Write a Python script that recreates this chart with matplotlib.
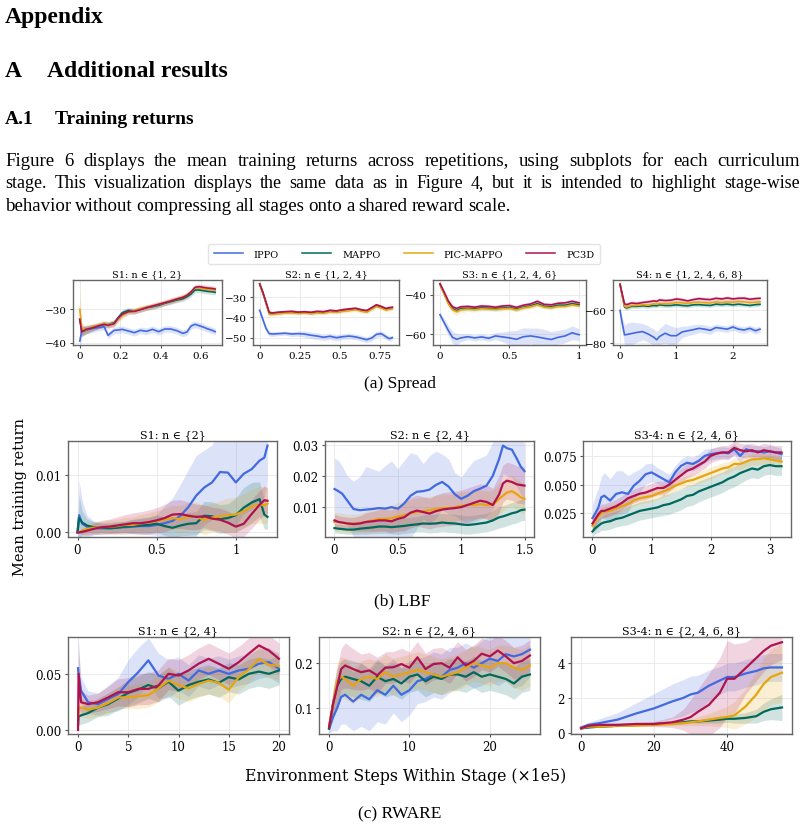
import matplotlib
matplotlib.use('Agg')
import matplotlib.pyplot as plt
from matplotlib.lines import Line2D
from matplotlib.ticker import FixedLocator, FuncFormatter
import numpy as np

# methods and colours
methods = ['IPPO', 'MAPPO', 'PIC-MAPPO', 'PC3D']
colors = ['#4169e1', '#00695c', '#e6a50f', '#b0124f']

# ---------------- Spread ----------------
sp1_x = [0, 0.01, 0.03, 0.06, 0.09, 0.12, 0.14, 0.17, 0.19, 0.21, 0.24, 0.27, 0.30, 0.33,
         0.36, 0.39, 0.42, 0.45, 0.48, 0.51, 0.53, 0.55, 0.57, 0.59, 0.61, 0.63, 0.65, 0.67]
sp1_ippo = [-39.5, -36.5, -36.2, -35.8, -35.5, -35.2, -37.8, -36.3, -36.2, -36.0, -36.5, -37.0, -36.3, -36.6,
            -36.0, -36.7, -35.9, -35.9, -36.4, -37.2, -36.8, -35.0, -34.5, -34.9, -35.3, -35.8, -36.2, -36.7]
sp1_mappo = [-33.0, -36.5, -36.3, -35.5, -35.0, -34.5, -34.6, -34.0, -32.5, -31.0, -30.3, -30.5, -30.0, -29.5,
             -29.2, -28.8, -28.2, -27.7, -27.2, -26.8, -26.2, -25.4, -24.2, -24.2, -24.4, -24.6, -24.7, -24.9]
sp1_pic = [-30.0, -35.8, -36.2, -35.3, -34.8, -34.3, -34.6, -34.2, -33.0, -31.8, -30.8, -30.4, -29.8, -29.4,
           -29.0, -28.5, -28.0, -27.4, -26.9, -26.3, -25.7, -24.8, -23.5, -23.6, -23.8, -24.0, -24.1, -24.2]
sp1_pc3d = [-33.0, -36.8, -36.0, -35.6, -35.0, -34.5, -34.8, -34.3, -32.6, -31.5, -30.7, -30.6, -30.1, -29.5,
            -29.0, -28.5, -28.0, -27.5, -26.9, -26.4, -25.8, -24.8, -23.4, -23.2, -23.4, -23.6, -23.7, -23.9]
sp1_ippo_sd = [3.0, 1.5, 1.2, 1.2, 1.0, 1.0, 1.0, 1.0, 1.0, 1.0, 1.0, 1.0, 1.0, 1.0,
               1.0, 1.0, 1.0, 1.0, 1.0, 1.0, 1.0, 1.0, 1.0, 1.0, 1.0, 1.0, 1.0, 1.0]
sp1_mappo_sd = [4.0, 1.5, 1.2, 1.0, 0.9, 0.9, 0.9, 0.9, 0.9, 0.9, 0.8, 0.8, 0.8, 0.8,
                0.8, 0.8, 0.8, 0.8, 0.8, 0.8, 0.8, 0.8, 0.8, 0.8, 0.8, 0.8, 0.8, 0.8]
sp1_pic_sd = [6.0, 1.8, 1.3, 1.0, 1.0, 1.0, 1.0, 1.0, 1.0, 1.0, 0.9, 0.9, 0.9, 0.9,
              0.9, 0.9, 0.9, 0.9, 0.9, 0.9, 0.9, 0.9, 0.9, 0.9, 0.9, 0.9, 0.9, 0.9]
sp1_pc3d_sd = [4.0, 1.5, 1.2, 1.0, 0.9, 0.9, 0.9, 0.9, 0.9, 0.9, 0.8, 0.8, 0.8, 0.8,
               0.8, 0.8, 0.8, 0.8, 0.8, 0.8, 0.8, 0.8, 0.8, 0.8, 0.8, 0.8, 0.8, 0.8]

sp2_x = [0, 0.02, 0.04, 0.06, 0.08, 0.12, 0.16, 0.2, 0.24, 0.28, 0.32, 0.36, 0.4,
         0.44, 0.48, 0.52, 0.56, 0.6, 0.64, 0.67, 0.7, 0.73, 0.76, 0.79, 0.81, 0.83]
sp2_ippo = [-36.5, -41.0, -45.5, -48.0, -48.2, -48.0, -47.8, -48.2, -48.0, -48.2, -48.8, -49.2, -49.8,
            -49.3, -50.0, -49.5, -49.2, -49.6, -50.4, -51.0, -50.2, -48.4, -48.0, -49.5, -50.5, -50.0]
sp2_mappo = [-23.5, -28.0, -33.0, -38.2, -38.0, -37.8, -37.4, -37.4, -37.7, -37.5, -37.8, -37.4, -37.5,
             -36.9, -37.1, -36.6, -36.2, -35.8, -36.7, -37.0, -35.6, -34.2, -35.0, -36.0, -35.6, -35.4]
sp2_pic = [-23.5, -28.0, -33.0, -38.5, -38.5, -38.2, -37.8, -37.8, -38.0, -37.8, -38.2, -37.8, -37.9,
           -37.3, -37.5, -37.0, -36.6, -36.2, -37.0, -37.4, -36.0, -34.6, -35.4, -36.4, -36.0, -35.8]
sp2_pc3d = [-23.5, -27.5, -32.5, -37.5, -37.8, -37.4, -37.2, -37.0, -37.4, -37.2, -37.5, -37.0, -37.2,
            -36.5, -36.8, -36.2, -35.8, -35.5, -36.3, -36.6, -35.2, -33.8, -34.6, -35.6, -35.2, -35.0]
sp2_ippo_sd = [1.5, 1.5, 1.5, 1.2, 1.2, 1.0, 1.0, 1.2, 1.3, 1.5, 1.6, 1.6, 1.6,
               1.5, 1.5, 1.4, 1.4, 1.4, 1.4, 1.5, 1.5, 1.5, 1.4, 1.3, 1.2, 1.2]
sp2_mappo_sd = [0.8] * 26
sp2_pic_sd = [0.9] * 26
sp2_pc3d_sd = [0.8] * 26

sp3_x = [0, 0.03, 0.06, 0.09, 0.12, 0.15, 0.2, 0.25, 0.3, 0.35, 0.4, 0.45,
         0.5, 0.55, 0.6, 0.65, 0.7, 0.75, 0.8, 0.85, 0.9, 0.95, 1.0]
sp3_ippo = [-50.0, -54.0, -58.0, -61.5, -62.5, -61.8, -61.2, -61.8, -61.3, -62.0, -60.8, -61.3,
            -61.8, -62.5, -61.2, -60.8, -61.3, -62.0, -62.6, -61.5, -60.8, -59.2, -60.2]
sp3_mappo = [-34.6, -39.2, -44.0, -47.0, -48.0, -47.0, -46.8, -47.0, -46.6, -46.8, -47.0, -46.6,
             -46.4, -47.2, -46.2, -45.6, -44.4, -45.8, -46.0, -45.2, -45.2, -44.4, -45.0]
sp3_pic = [-34.6, -39.5, -44.5, -47.5, -48.5, -47.5, -47.2, -47.5, -47.0, -47.2, -47.4, -47.0,
           -46.8, -47.6, -46.5, -46.0, -45.0, -46.2, -46.5, -45.8, -45.8, -45.0, -45.6]
sp3_pc3d = [-34.2, -38.5, -43.0, -46.0, -46.8, -46.0, -45.8, -46.2, -45.6, -45.8, -46.2, -45.6,
            -45.4, -46.3, -45.2, -44.6, -43.2, -44.8, -45.0, -44.2, -44.0, -43.2, -44.0]
sp3_ippo_sd = [1.5, 2.0, 2.5, 3.0, 3.0, 2.0, 1.5, 1.5, 1.5, 1.5, 1.8, 2.5,
               3.5, 4.5, 4.5, 4.0, 4.5, 4.5, 4.0, 3.5, 3.5, 3.5, 3.0]
sp3_mappo_sd = [1.0] * 23
sp3_pic_sd = [1.0, 1.2, 1.5, 1.8, 1.8, 1.5, 1.2, 1.2, 1.0, 1.0, 1.0, 1.0,
              1.0, 1.0, 1.0, 1.0, 1.0, 1.0, 1.0, 1.0, 1.0, 1.0, 1.0]
sp3_pc3d_sd = [1.0] * 23

sp4_x = [0, 0.04, 0.08, 0.12, 0.2, 0.3, 0.4, 0.5, 0.6, 0.65, 0.7, 0.8, 0.9, 1.0, 1.1,
         1.2, 1.3, 1.4, 1.5, 1.6, 1.7, 1.8, 1.9, 2.0, 2.1, 2.2, 2.3, 2.4, 2.48]
sp4_ippo = [-60.0, -68.0, -75.0, -74.8, -74.2, -73.5, -73.0, -74.5, -76.5, -78.0, -76.0, -74.0, -75.5, -75.5, -73.2,
            -72.5, -71.8, -71.0, -71.5, -72.2, -70.5, -71.0, -71.5, -70.2, -71.5, -72.0, -71.0, -72.5, -71.5]
sp4_mappo = [-44.0, -51.0, -58.0, -58.5, -57.5, -57.5, -57.2, -57.5, -57.0, -57.2, -56.6, -57.0, -57.0, -56.6, -57.0,
             -57.2, -56.6, -56.5, -56.8, -57.0, -56.2, -56.5, -56.2, -56.6, -56.2, -56.6, -57.0, -56.5, -56.3]
sp4_pic = [-44.0, -51.0, -57.5, -58.0, -57.0, -57.0, -56.5, -56.8, -56.0, -56.2, -55.8, -56.0, -55.8, -55.2, -55.4,
           -55.8, -55.2, -55.0, -55.3, -55.5, -54.8, -55.2, -54.8, -55.0, -54.6, -54.8, -55.3, -55.0, -54.8]
sp4_pc3d = [-44.0, -50.0, -56.0, -56.5, -55.5, -55.8, -55.2, -54.8, -54.2, -54.5, -53.6, -54.0, -53.8, -53.0, -53.5,
            -54.2, -53.4, -52.8, -53.2, -53.4, -52.6, -53.0, -52.4, -53.0, -52.6, -52.5, -53.2, -52.8, -52.6]
sp4_ippo_sd = [2, 4, 6, 7, 7, 6, 5, 5, 5, 5, 5, 6, 6, 5, 3.5,
               3, 3, 2.5, 2.5, 2.5, 2, 2, 2, 2, 2, 2, 2, 2, 2]
sp4_mappo_sd = [1.2] * 29
sp4_pic_sd = [1.3] * 29
sp4_pc3d_sd = [1.3] * 29

# ---------------- LBF ----------------
lb1_x = [0, 0.01, 0.03, 0.06, 0.1, 0.15, 0.2, 0.25, 0.3, 0.35, 0.4, 0.45, 0.5, 0.55,
         0.6, 0.65, 0.7, 0.75, 0.8, 0.85, 0.9, 0.95, 1.0, 1.05, 1.1, 1.15, 1.18, 1.2]
lb1_ippo = [0.0, 0.003, 0.0015, 0.001, 0.0008, 0.0007, 0.0008, 0.0009, 0.0009, 0.001, 0.0011, 0.0011, 0.0013, 0.0016,
            0.002, 0.0029, 0.0044, 0.0064, 0.0078, 0.0087, 0.0105, 0.0104, 0.0087, 0.0102, 0.011, 0.0125, 0.013, 0.0151]
lb1_mappo = [0.0, 0.0025, 0.0017, 0.0012, 0.0009, 0.0008, 0.0007, 0.0008, 0.001, 0.0011, 0.0012, 0.0013, 0.0015, 0.0011,
             0.0008, 0.0012, 0.0015, 0.0016, 0.0029, 0.0028, 0.0023, 0.0025, 0.003, 0.0043, 0.0052, 0.0058, 0.0031, 0.0027]
lb1_pic = [0.0, 0.0, 0.0003, 0.0006, 0.0008, 0.0009, 0.001, 0.0011, 0.0013, 0.0013, 0.0016, 0.0017, 0.002, 0.0022,
           0.0025, 0.0023, 0.0027, 0.0028, 0.0021, 0.0026, 0.0028, 0.003, 0.0031, 0.0037, 0.0045, 0.0048, 0.0047, 0.005]
lb1_pc3d = [0.0, 0.0, 0.0001, 0.0003, 0.0006, 0.0009, 0.001, 0.0012, 0.0014, 0.0016, 0.0016, 0.0018, 0.0021, 0.0025,
            0.0031, 0.0032, 0.0029, 0.0027, 0.0028, 0.0024, 0.0022, 0.0017, 0.001, 0.0015, 0.0032, 0.0048, 0.0056, 0.0055]
lb1_ippo_sd = [0.0, 0.006, 0.004, 0.002, 0.0012, 0.001, 0.001, 0.001, 0.001, 0.0012, 0.0013, 0.0015, 0.0018, 0.003,
               0.004, 0.0055, 0.0065, 0.007, 0.0065, 0.0065, 0.0075, 0.0085, 0.0075, 0.007, 0.007, 0.007, 0.007, 0.006]
lb1_mappo_sd = [0.0, 0.004, 0.002, 0.0012, 0.001, 0.0008, 0.0008, 0.0009, 0.001, 0.0012, 0.0013, 0.0014, 0.0015, 0.0016,
                0.0017, 0.0018, 0.002, 0.002, 0.0025, 0.0025, 0.0025, 0.0025, 0.003, 0.0035, 0.0035, 0.003, 0.0025, 0.0022]
lb1_pic_sd = [0.0, 0.0, 0.0008, 0.001, 0.001, 0.001, 0.0012, 0.0012, 0.0013, 0.0014, 0.0015, 0.0017, 0.0018, 0.002,
              0.0022, 0.0024, 0.0025, 0.0025, 0.0025, 0.0025, 0.0027, 0.003, 0.003, 0.003, 0.003, 0.0032, 0.0032, 0.0032]
lb1_pc3d_sd = [0.0, 0.0, 0.0005, 0.0008, 0.001, 0.0012, 0.0013, 0.0015, 0.0017, 0.0018, 0.002, 0.0021, 0.0022, 0.0024,
               0.0025, 0.0025, 0.0024, 0.0022, 0.002, 0.002, 0.002, 0.002, 0.002, 0.0022, 0.0025, 0.0025, 0.0025, 0.0022]

lb2_x = [0, 0.03, 0.06, 0.1, 0.15, 0.2, 0.25, 0.3, 0.35, 0.4, 0.45, 0.5, 0.55, 0.6, 0.65, 0.7, 0.75,
         0.8, 0.85, 0.9, 0.95, 1.0, 1.05, 1.1, 1.15, 1.2, 1.25, 1.3, 1.33, 1.36, 1.4, 1.44, 1.47, 1.5]
lb2_ippo = [0.0157, 0.015, 0.0142, 0.012, 0.0092, 0.0088, 0.009, 0.0092, 0.0095, 0.0093, 0.0098, 0.0093, 0.011,
            0.0135, 0.0148, 0.015, 0.0155, 0.017, 0.018, 0.0165, 0.014, 0.0125, 0.0135, 0.015, 0.0158, 0.0168,
            0.02, 0.0255, 0.0298, 0.029, 0.0285, 0.0255, 0.023, 0.0215]
lb2_mappo = [0.003, 0.0028, 0.0027, 0.0025, 0.0025, 0.0028, 0.003, 0.0032, 0.0035, 0.0035, 0.0033, 0.0035, 0.0037,
             0.004, 0.0042, 0.0045, 0.0044, 0.0045, 0.0048, 0.0046, 0.0045, 0.0042, 0.004, 0.0042, 0.0045, 0.0048,
             0.0055, 0.0065, 0.0068, 0.0072, 0.0078, 0.0082, 0.0088, 0.009]
lb2_pic = [0.005, 0.005, 0.0048, 0.0045, 0.0045, 0.0047, 0.005, 0.0055, 0.006, 0.006, 0.0062, 0.0068, 0.0072,
           0.0078, 0.0082, 0.0085, 0.0088, 0.0092, 0.0095, 0.0095, 0.0098, 0.0102, 0.0105, 0.0105, 0.0108, 0.0105,
           0.0105, 0.0125, 0.0135, 0.0145, 0.015, 0.014, 0.013, 0.0125]
lb2_pc3d = [0.0055, 0.005, 0.0048, 0.0045, 0.0043, 0.0045, 0.005, 0.0052, 0.0055, 0.0055, 0.0052, 0.006, 0.0065,
            0.008, 0.0087, 0.0082, 0.0077, 0.0085, 0.009, 0.0093, 0.0095, 0.0098, 0.0105, 0.0112, 0.0119, 0.0115,
            0.0105, 0.014, 0.0175, 0.0184, 0.018, 0.0172, 0.017, 0.0168]
lb2_ippo_sd = [0.01, 0.01, 0.009, 0.008, 0.009, 0.011, 0.014, 0.013, 0.012, 0.014, 0.015, 0.013, 0.014,
               0.014, 0.012, 0.009, 0.011, 0.011, 0.009, 0.009, 0.007, 0.007, 0.009, 0.01, 0.01, 0.01,
               0.011, 0.01, 0.009, 0.009, 0.009, 0.009, 0.009, 0.009]
lb2_mappo_sd = [0.0015, 0.0015, 0.0015, 0.0015, 0.0015, 0.0018, 0.002, 0.002, 0.0022, 0.0022, 0.0022, 0.0025, 0.0025,
                0.0025, 0.0025, 0.0028, 0.003, 0.003, 0.003, 0.003, 0.003, 0.003, 0.003, 0.003, 0.003, 0.003,
                0.0032, 0.0035, 0.0035, 0.0035, 0.0035, 0.0035, 0.0035, 0.0035]
lb2_pic_sd = [0.003, 0.003, 0.003, 0.003, 0.003, 0.003, 0.0035, 0.0038, 0.004, 0.004, 0.0042, 0.0045, 0.0045,
              0.0045, 0.0045, 0.0045, 0.0045, 0.0045, 0.0045, 0.0045, 0.0045, 0.0045, 0.0045, 0.0045, 0.0045, 0.0045,
              0.0048, 0.005, 0.005, 0.005, 0.005, 0.005, 0.005, 0.005]
lb2_pc3d_sd = [0.002, 0.002, 0.002, 0.002, 0.0022, 0.0025, 0.003, 0.0032, 0.0035, 0.0035, 0.0038, 0.004, 0.0045,
               0.005, 0.005, 0.005, 0.005, 0.0052, 0.0055, 0.0055, 0.0055, 0.0055, 0.0055, 0.0055, 0.0055, 0.0055,
               0.0055, 0.006, 0.006, 0.006, 0.006, 0.006, 0.006, 0.006]

lb3_x = [0, 0.05, 0.1, 0.15, 0.2, 0.3, 0.4, 0.5, 0.6, 0.7, 0.8, 0.9, 1.0, 1.1, 1.2, 1.3, 1.4, 1.5,
         1.6, 1.7, 1.8, 1.9, 2.0, 2.1, 2.2, 2.3, 2.4, 2.5, 2.6, 2.7, 2.8, 2.9, 3.0, 3.1, 3.2]
lb3_ippo = [0.0207, 0.025, 0.030, 0.0389, 0.0403, 0.036, 0.0418, 0.0432, 0.0418, 0.049, 0.0533, 0.059, 0.0606,
            0.0577, 0.0548, 0.0519, 0.0606, 0.0663, 0.069, 0.068, 0.0707, 0.075, 0.0765, 0.0773, 0.078, 0.0773,
            0.0808, 0.075, 0.0808, 0.079, 0.079, 0.078, 0.079, 0.078, 0.0765]
lb3_mappo = [0.009, 0.012, 0.014, 0.016, 0.017, 0.018, 0.02, 0.021, 0.023, 0.025, 0.027, 0.028, 0.029, 0.03,
             0.032, 0.033, 0.035, 0.037, 0.04, 0.041, 0.044, 0.046, 0.048, 0.05, 0.052, 0.055, 0.057, 0.06,
             0.062, 0.064, 0.063, 0.066, 0.067, 0.066, 0.066]
lb3_pic = [0.014, 0.018, 0.022, 0.025, 0.026, 0.027, 0.029, 0.031, 0.033, 0.036, 0.038, 0.039, 0.04, 0.042,
           0.044, 0.046, 0.049, 0.051, 0.053, 0.054, 0.056, 0.058, 0.06, 0.062, 0.064, 0.065, 0.068, 0.068,
           0.07, 0.072, 0.072, 0.073, 0.072, 0.071, 0.07]
lb3_pc3d = [0.016, 0.02, 0.024, 0.027, 0.027, 0.029, 0.031, 0.034, 0.038, 0.04, 0.042, 0.043, 0.045, 0.047,
            0.047, 0.05, 0.054, 0.058, 0.062, 0.064, 0.067, 0.07, 0.075, 0.077, 0.078, 0.078, 0.082, 0.08,
            0.079, 0.08, 0.078, 0.08, 0.079, 0.078, 0.078]
lb3_ippo_sd = [0.012, 0.015, 0.017, 0.018, 0.02, 0.019, 0.02, 0.019, 0.016, 0.012, 0.01, 0.009, 0.008, 0.007,
               0.007, 0.007, 0.006, 0.006, 0.006, 0.006, 0.006, 0.006, 0.005, 0.005, 0.005, 0.005, 0.005, 0.006,
               0.005, 0.005, 0.005, 0.005, 0.005, 0.005, 0.005]
lb3_mappo_sd = [0.004, 0.005, 0.006, 0.006, 0.007, 0.007, 0.007, 0.007, 0.008, 0.008, 0.008, 0.008, 0.008, 0.008,
                0.009, 0.009, 0.009, 0.009, 0.009, 0.009, 0.009, 0.009, 0.009, 0.009, 0.009, 0.009, 0.009, 0.009,
                0.008, 0.008, 0.008, 0.008, 0.008, 0.008, 0.008]
lb3_pic_sd = [0.005] * 35
lb3_pc3d_sd = [0.006] * 35

# ---------------- RWARE ----------------
rw1_x = [0, 0.05, 0.3, 1, 2, 3, 4, 5, 6, 7, 8, 9, 10, 11, 12, 13, 14, 15, 16, 17, 18, 19, 20]
rw1_ippo = [0.055, 0.05, 0.035, 0.0247, 0.023, 0.0277, 0.032, 0.0426, 0.0515, 0.062, 0.0485, 0.0455,
            0.05, 0.044, 0.053, 0.05, 0.053, 0.05, 0.053, 0.0545, 0.059, 0.0604, 0.0545]
rw1_mappo = [0.005, 0.012, 0.013, 0.015, 0.02, 0.023, 0.028, 0.033, 0.036, 0.04, 0.037, 0.043,
             0.035, 0.04, 0.043, 0.045, 0.042, 0.047, 0.045, 0.05, 0.052, 0.05, 0.053]
rw1_pic = [0.01, 0.02, 0.02, 0.018, 0.02, 0.024, 0.029, 0.029, 0.03, 0.031, 0.037, 0.044,
           0.04, 0.037, 0.041, 0.044, 0.042, 0.036, 0.047, 0.054, 0.063, 0.058, 0.057]
rw1_pc3d = [0.0, 0.05, 0.0247, 0.023, 0.0247, 0.029, 0.0336, 0.0336, 0.0366, 0.0366, 0.0396, 0.05,
            0.0485, 0.053, 0.059, 0.0634, 0.059, 0.0545, 0.0604, 0.068, 0.0753, 0.0708, 0.0634]
rw1_ippo_sd = [0.03, 0.02, 0.012, 0.01, 0.01, 0.012, 0.015, 0.02, 0.022, 0.02, 0.02, 0.017,
               0.015, 0.014, 0.014, 0.014, 0.013, 0.013, 0.013, 0.013, 0.013, 0.013, 0.013]
rw1_mappo_sd = [0.005, 0.008, 0.008, 0.008, 0.008, 0.01, 0.01, 0.012, 0.012, 0.012, 0.012, 0.013,
                0.013, 0.013, 0.013, 0.013, 0.013, 0.013, 0.013, 0.013, 0.013, 0.013, 0.013]
rw1_pic_sd = [0.01, 0.01, 0.008, 0.008, 0.008, 0.009, 0.01, 0.01, 0.011, 0.011, 0.012, 0.012,
              0.012, 0.012, 0.012, 0.012, 0.012, 0.012, 0.012, 0.012, 0.012, 0.012, 0.012]
rw1_pc3d_sd = [0.0, 0.03, 0.01, 0.008, 0.008, 0.01, 0.012, 0.013, 0.014, 0.014, 0.014, 0.014,
               0.014, 0.014, 0.014, 0.014, 0.014, 0.014, 0.014, 0.014, 0.014, 0.014, 0.014]

rw2_x = [0, 0.5, 1, 1.5, 2, 3, 4, 5, 6, 7, 8, 9, 10, 11, 12, 13, 14, 15, 16, 17, 18, 19, 20, 21, 22, 23, 24, 25]
rw2_ippo = [0.055, 0.08, 0.1, 0.125, 0.13, 0.115, 0.13, 0.12, 0.14, 0.13, 0.15, 0.13, 0.14, 0.16,
            0.165, 0.175, 0.17, 0.185, 0.19, 0.2, 0.19, 0.2, 0.21, 0.205, 0.22, 0.215, 0.22, 0.23]
rw2_mappo = [0.055, 0.11, 0.15, 0.165, 0.17, 0.165, 0.16, 0.15, 0.17, 0.16, 0.165, 0.155, 0.17, 0.175,
             0.16, 0.17, 0.165, 0.175, 0.175, 0.17, 0.18, 0.17, 0.175, 0.17, 0.165, 0.155, 0.17, 0.175]
rw2_pic = [0.06, 0.11, 0.16, 0.17, 0.165, 0.15, 0.165, 0.17, 0.165, 0.18, 0.17, 0.175, 0.18, 0.185,
           0.18, 0.175, 0.17, 0.175, 0.18, 0.19, 0.2, 0.195, 0.19, 0.2, 0.2, 0.19, 0.185, 0.195]
rw2_pc3d = [0.058, 0.11, 0.147, 0.187, 0.195, 0.187, 0.18, 0.184, 0.173, 0.19, 0.191, 0.198, 0.19, 0.213,
            0.187, 0.198, 0.2, 0.19, 0.213, 0.195, 0.205, 0.221, 0.215, 0.228, 0.215, 0.2, 0.205, 0.217]
rw2_ippo_sd = [0.01, 0.03, 0.05, 0.06, 0.065, 0.065, 0.07, 0.07, 0.07, 0.065, 0.06, 0.06, 0.055, 0.05,
               0.05, 0.05, 0.05, 0.05, 0.045, 0.045, 0.045, 0.05, 0.05, 0.055, 0.06, 0.07, 0.07, 0.06]
rw2_mappo_sd = [0.01, 0.03, 0.04, 0.04, 0.04, 0.04, 0.04, 0.035, 0.035, 0.035, 0.035, 0.035, 0.035, 0.035,
                0.035, 0.035, 0.035, 0.035, 0.035, 0.035, 0.035, 0.035, 0.035, 0.035, 0.035, 0.035, 0.035, 0.035]
rw2_pic_sd = [0.01, 0.03, 0.04, 0.045, 0.045, 0.04, 0.04, 0.04, 0.04, 0.04, 0.04, 0.04, 0.04, 0.04,
              0.04, 0.04, 0.04, 0.04, 0.04, 0.04, 0.04, 0.04, 0.04, 0.04, 0.04, 0.045, 0.045, 0.045]
rw2_pc3d_sd = [0.01, 0.03, 0.04, 0.045, 0.05, 0.045, 0.04, 0.04, 0.04, 0.035, 0.035, 0.035, 0.035, 0.035,
               0.035, 0.035, 0.035, 0.035, 0.035, 0.035, 0.035, 0.035, 0.035, 0.035, 0.035, 0.035, 0.035, 0.035]

rw3_x = [0, 2, 5, 10, 15, 20, 25, 28, 30, 32, 35, 38, 40, 42, 45, 48, 50, 52, 55]
rw3_ippo = [0.3, 0.45, 0.55, 0.75, 1.1, 1.4, 1.8, 2.0, 2.2, 2.3, 2.7, 3.0, 3.2, 3.2, 3.4, 3.55, 3.7, 3.75, 3.75]
rw3_mappo = [0.25, 0.3, 0.35, 0.4, 0.45, 0.5, 0.55, 0.6, 0.65, 0.65, 0.7, 0.75, 0.8, 0.8, 0.85, 0.95, 1.2, 1.35, 1.45]
rw3_pic = [0.25, 0.35, 0.35, 0.4, 0.4, 0.45, 0.5, 0.55, 0.6, 0.65, 0.75, 0.85, 0.9, 1.0, 1.5, 2.2, 2.8, 3.2, 3.45]
rw3_pc3d = [0.25, 0.4, 0.45, 0.45, 0.5, 0.5, 0.6, 0.75, 0.9, 1.2, 1.6, 2.3, 3.1, 3.1, 3.7, 4.3, 4.7, 5.0, 5.2]
rw3_ippo_sd = [0.1, 0.15, 0.25, 0.4, 0.6, 0.85, 1.0, 1.05, 1.05, 1.0, 0.9, 0.8, 0.8, 0.8, 0.8, 0.8, 0.8, 0.8, 0.8]
rw3_mappo_sd = [0.05, 0.05, 0.05, 0.05, 0.05, 0.05, 0.1, 0.1, 0.1, 0.1, 0.15, 0.2, 0.2, 0.25, 0.3, 0.4, 0.5, 0.6, 0.75]
rw3_pic_sd = [0.05, 0.05, 0.05, 0.05, 0.05, 0.1, 0.1, 0.15, 0.2, 0.25, 0.35, 0.5, 0.6, 0.8, 1.0, 1.3, 1.5, 1.6, 1.7]
rw3_pc3d_sd = [0.05, 0.1, 0.1, 0.1, 0.1, 0.15, 0.3, 0.6, 1.0, 1.3, 1.8, 2.0, 2.2, 2.0, 1.5, 1.3, 1.2, 1.1, 1.0]

# titles
sp_titles = ['S1: n ∈ {1, 2}', 'S2: n ∈ {1, 2, 4}', 'S3: n ∈ {1, 2, 4, 6}', 'S4: n ∈ {1, 2, 4, 6, 8}']
lb_titles = ['S1: n ∈ {2}', 'S2: n ∈ {2, 4}', 'S3-4: n ∈ {2, 4, 6}']
rw_titles = ['S1: n ∈ {2, 4}', 'S2: n ∈ {2, 4, 6}', 'S3-4: n ∈ {2, 4, 6, 8}']

W, H = 804, 828
fig = plt.figure(figsize=(W / 100, H / 100), dpi=100)
SERIF = 'DejaVu Serif'
TIMES = 'Liberation Serif'


def box(x0, x1, ytop, ybot):
    return [x0 / W, 1 - ybot / H, (x1 - x0) / W, (ybot - ytop) / H]


def fmt(v, _=None):
    return ('%g' % v).replace('-', '−')


def panel(rect, xs, series, bands, title, xticks, yticks, ylim, yfmt, lw, fs, tfs):
    ax = fig.add_axes(rect)
    for ys, sd, c in zip(series, bands, colors):
        ys = np.array(ys)
        sd = np.array(sd)
        ax.fill_between(xs, ys - sd, ys + sd, color=c, alpha=0.18, lw=0)
    for ys, c in zip(series, colors):
        ax.plot(xs, ys, color=c, lw=lw)
    ax.set_ylim(ylim)
    ax.xaxis.set_major_locator(FixedLocator(xticks))
    ax.yaxis.set_major_locator(FixedLocator(yticks))
    ax.xaxis.set_major_formatter(FuncFormatter(fmt))
    ax.yaxis.set_major_formatter(FuncFormatter(lambda v, _: (yfmt % v).replace('-', '−')))
    ax.grid(True, color='#ebebeb', lw=0.7)
    ax.set_axisbelow(True)
    for s in ax.spines.values():
        s.set_color('#666666')
        s.set_linewidth(1.0)
    ax.tick_params(labelsize=fs, length=2.5, width=0.8, color='#555555', pad=2)
    for lab in ax.get_xticklabels() + ax.get_yticklabels():
        lab.set_family(SERIF)
    ax.set_title(title, fontsize=tfs, family=SERIF, pad=2.5)
    return ax


# row (a) spread
panel(box(73, 222, 281, 346), sp1_x, [sp1_ippo, sp1_mappo, sp1_pic, sp1_pc3d],
      [sp1_ippo_sd, sp1_mappo_sd, sp1_pic_sd, sp1_pc3d_sd], sp_titles[0],
      [0, 0.2, 0.4, 0.6], [-40, -30], (-40.7, -21.2), '%d', 1.2, 7.5, 7)
panel(box(253, 399, 281, 346), sp2_x, [sp2_ippo, sp2_mappo, sp2_pic, sp2_pc3d],
      [sp2_ippo_sd, sp2_mappo_sd, sp2_pic_sd, sp2_pc3d_sd], sp_titles[1],
      [0, 0.25, 0.5, 0.75], [-50, -40, -30], (-53.6, -21.6), '%d', 1.2, 7.5, 7)
panel(box(433, 586, 281, 346), sp3_x, [sp3_ippo, sp3_mappo, sp3_pic, sp3_pc3d],
      [sp3_ippo_sd, sp3_mappo_sd, sp3_pic_sd, sp3_pc3d_sd], sp_titles[2],
      [0, 0.5, 1], [-60, -40], (-65.4, -32.4), '%d', 1.2, 7.5, 7)
panel(box(613, 767, 281, 346), sp4_x, [sp4_ippo, sp4_mappo, sp4_pic, sp4_pc3d],
      [sp4_ippo_sd, sp4_mappo_sd, sp4_pic_sd, sp4_pc3d_sd], sp_titles[3],
      [0, 1, 2], [-80, -60], (-81.2, -41.4), '%d', 1.2, 7.5, 7)

# row (b) LBF
panel(box(68, 277, 442, 538), lb1_x, [lb1_ippo, lb1_mappo, lb1_pic, lb1_pc3d],
      [lb1_ippo_sd, lb1_mappo_sd, lb1_pic_sd, lb1_pc3d_sd], lb_titles[0],
      [0, 0.5, 1], [0, 0.01], (-0.0008, 0.0159), '%.2f', 1.6, 8.5, 8)
panel(box(325, 534, 442, 538), lb2_x, [lb2_ippo, lb2_mappo, lb2_pic, lb2_pc3d],
      [lb2_ippo_sd, lb2_mappo_sd, lb2_pic_sd, lb2_pc3d_sd], lb_titles[1],
      [0, 0.5, 1, 1.5], [0.01, 0.02, 0.03], (0.0001, 0.0313), '%.2f', 1.6, 8.5, 8)
panel(box(583, 791, 442, 538), lb3_x, [lb3_ippo, lb3_mappo, lb3_pic, lb3_pc3d],
      [lb3_ippo_sd, lb3_mappo_sd, lb3_pic_sd, lb3_pc3d_sd], lb_titles[2],
      [0, 1, 2, 3], [0.025, 0.05, 0.075], (0.0042, 0.088), '%.3f', 1.6, 8.5, 8)

# row (c) RWARE
panel(box(68, 289, 638, 735), rw1_x, [rw1_ippo, rw1_mappo, rw1_pic, rw1_pc3d],
      [rw1_ippo_sd, rw1_mappo_sd, rw1_pic_sd, rw1_pc3d_sd], rw_titles[0],
      [0, 5, 10, 15, 20], [0, 0.05], (-0.0036, 0.0828), '%.2f', 1.6, 8.5, 8)
panel(box(319, 540, 638, 735), rw2_x, [rw2_ippo, rw2_mappo, rw2_pic, rw2_pc3d],
      [rw2_ippo_sd, rw2_mappo_sd, rw2_pic_sd, rw2_pc3d_sd], rw_titles[1],
      [0, 10, 20], [0.1, 0.2], (0.043, 0.258), '%.1f', 1.6, 8.5, 8)
panel(box(571, 792, 638, 735), rw3_x, [rw3_ippo, rw3_mappo, rw3_pic, rw3_pc3d],
      [rw3_ippo_sd, rw3_mappo_sd, rw3_pic_sd, rw3_pc3d_sd], rw_titles[2],
      [0, 20, 40], [0, 2, 4], (-0.075, 5.5), '%d', 1.6, 8.5, 8)

# legend on top of the spread row
handles = [Line2D([], [], color=c, lw=1.1) for c in colors]
fig.legend(handles, methods, loc='center', bbox_to_anchor=(404 / W, 1 - 255 / H), ncol=4,
           prop={'family': SERIF, 'size': 7}, handlelength=3.0, handletextpad=1.1,
           columnspacing=2.4, frameon=True, edgecolor='#dddddd', fancybox=True, borderpad=0.6)

# axis labels and sub captions
fig.text(406 / W, 1 - 777 / H, 'Environment Steps Within Stage (×1e5)', ha='center', va='center',
         family=SERIF, fontsize=11.3)
fig.text(20 / W, 1 - 497 / H, 'Mean training return', ha='center', va='center', rotation=90,
         family=SERIF, fontsize=10.5)
fig.text(400 / W, 1 - 384 / H, '(a) Spread', ha='center', va='center', family=TIMES, fontsize=12.5)
fig.text(402 / W, 1 - 601 / H, '(b) LBF', ha='center', va='center', family=TIMES, fontsize=12.5)
fig.text(400 / W, 1 - 814 / H, '(c) RWARE', ha='center', va='center', family=TIMES, fontsize=12.5)

# page text above the figure
fig.text(5 / W, 1 - 23 / H, 'Appendix', family=TIMES, weight='bold', fontsize=17, va='baseline')
fig.text(5 / W, 1 - 77 / H, 'A', family=TIMES, weight='bold', fontsize=17, va='baseline')
fig.text(47 / W, 1 - 77 / H, 'Additional results', family=TIMES, weight='bold', fontsize=17, va='baseline')
fig.text(5 / W, 1 - 124 / H, 'A.1', family=TIMES, weight='bold', fontsize=14, va='baseline')
fig.text(55 / W, 1 - 124 / H, 'Training returns', family=TIMES, weight='bold', fontsize=14, va='baseline')

para = ['Figure 6 displays the mean training returns across repetitions, using subplots for each curriculum',
        'stage. This visualization displays the same data as in Figure 4, but it is intended to highlight stage-wise',
        'behavior without compressing all stages onto a shared reward scale.']
para_base = [166, 188.5, 211]
para_size = [13.6, 12.9, 13.6]
renderer = fig.canvas.get_renderer()
for i, (line, yb, fsz) in enumerate(zip(para, para_base, para_size)):
    words = line.split()
    texts = [fig.text(0, 1 - yb / H, w, family=TIMES, fontsize=fsz, va='baseline') for w in words]
    widths = [t.get_window_extent(renderer).width for t in texts]
    if i < len(para) - 1:
        gap = (800 - 5 - sum(widths)) / (len(words) - 1)
    else:
        gap = 4.0
    x = 5
    for t, w in zip(texts, widths):
        t.set_x(x / W)
        x += w + gap

fig.savefig('out.png', dpi=100)
